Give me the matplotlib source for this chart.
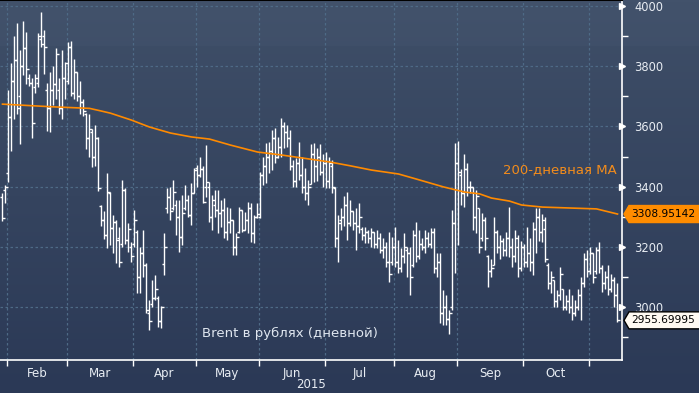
import numpy as np
import matplotlib.pyplot as plt
from matplotlib.patches import Polygon
from matplotlib.transforms import blended_transform_factory

# number of daily bars per month (Jan and Nov partial)
month_names = ["Jan", "Feb", "Mar", "Apr", "May", "Jun", "Jul", "Aug", "Sep", "Oct", "Nov"]
month_bars = [2, 20, 22, 21, 21, 22, 23, 21, 22, 22, 10]

highs = [3380, 3405,
         3720, 3810, 3900, 3945, 3855, 3950, 3915, 3775, 3760, 3775, 3910, 3980, 3920, 3745, 3780, 3800, 3860, 3760, 3855, 3815,
         3880, 3885, 3825, 3780, 3750, 3690, 3645, 3640, 3590, 3605, 3565, 3340, 3320, 3444, 3383, 3306, 3289, 3267, 3422, 3394, 3278, 3217,
         3322, 3256, 3200, 3256, 3145, 3024, 3090, 3107, 3035, 3004, 3245, 3394, 3400, 3422, 3355, 3355, 3372, 3405, 3372, 3411, 3461,
         3472, 3500, 3467, 3538, 3416, 3372, 3389, 3389, 3356, 3361, 3333, 3328, 3289, 3245, 3333, 3322, 3317, 3350, 3345, 3306, 3345,
         3450, 3500, 3544, 3549, 3588, 3594, 3566, 3627, 3616, 3605, 3588, 3489, 3494, 3549, 3500, 3461, 3422, 3540, 3544, 3527, 3540, 3510,
         3515, 3500, 3490, 3400, 3305, 3330, 3370, 3383, 3355, 3320, 3328, 3345, 3267, 3267, 3256, 3261, 3250, 3256, 3245, 3228, 3217, 3250, 3234,
         3267, 3223, 3195, 3245, 3200, 3200, 3256, 3284, 3256, 3230, 3256, 3250, 3261, 3261, 3180, 3178, 3057, 3040, 2990, 3322, 3544,
         3550, 3460, 3510, 3480, 3420, 3400, 3389, 3330, 3311, 3300, 3173, 3160, 3300, 3256, 3240, 3230, 3250, 3333, 3228, 3256, 3240, 3220,
         3210, 3267, 3230, 3284, 3328, 3328, 3310, 3300, 3145, 3120, 3090, 3057, 3134, 3060, 3040, 3060, 3040, 3024, 3060, 3101, 3178, 3190,
         3200, 3180, 3200, 3217, 3140, 3120, 3140, 3110, 3100, 3079]

lows = [3285, 3345,
        3415, 3520, 3625, 3640, 3540, 3770, 3740, 3735, 3560, 3710, 3730, 3865, 3775, 3585, 3580, 3670, 3690, 3640, 3625, 3690,
        3740, 3700, 3690, 3685, 3640, 3635, 3525, 3500, 3465, 3470, 3385, 3270, 3225, 3195, 3206, 3178, 3145, 3134, 3200, 3211, 3183, 3150,
        3201, 3045, 3045, 3100, 2979, 2924, 3000, 3024, 2932, 2930, 3106, 3311, 3289, 3322, 3239, 3184, 3206, 3322, 3300, 3272, 3378,
        3400, 3433, 3345, 3367, 3284, 3256, 3300, 3245, 3267, 3228, 3223, 3245, 3173, 3173, 3245, 3250, 3256, 3245, 3217, 3212, 3295,
        3295, 3405, 3411, 3444, 3455, 3477, 3494, 3500, 3527, 3533, 3455, 3400, 3400, 3422, 3378, 3356, 3339, 3410, 3416, 3420, 3440, 3400,
        3395, 3395, 3380, 3200, 3150, 3255, 3270, 3223, 3270, 3256, 3190, 3245, 3222, 3212, 3212, 3200, 3195, 3195, 3178, 3162, 3134, 3084, 3140,
        3134, 3112, 3117, 3145, 3100, 3040, 3134, 3150, 3160, 3190, 3180, 3200, 3195, 3112, 3100, 2946, 2940, 2940, 2912, 2990, 3112,
        3206, 3340, 3333, 3370, 3380, 3256, 3245, 3178, 3220, 3190, 3068, 3100, 3140, 3180, 3160, 3170, 3170, 3167, 3134, 3150, 3101, 3120,
        3134, 3134, 3120, 3106, 3178, 3220, 3217, 3150, 3060, 3045, 3001, 3001, 3024, 2990, 2990, 2980, 2957, 2970, 2990, 2957, 3068, 3101,
        3110, 3080, 3110, 3112, 3050, 3060, 3040, 3050, 3000, 2950]

opens = [3367, 3390,
         3445, 3630, 3750, 3820, 3700, 3800, 3860, 3760, 3745, 3730, 3745, 3890, 3900, 3720, 3660, 3720, 3740, 3720, 3660, 3760,
         3750, 3865, 3710, 3780, 3700, 3680, 3640, 3560, 3580, 3500, 3560, 3335, 3290, 3240, 3380, 3261, 3284, 3228, 3210, 3390, 3222, 3200,
         3210, 3250, 3100, 3178, 3140, 2980, 3010, 3030, 3030, 2952, 3142, 3330, 3366, 3330, 3340, 3300, 3233, 3330, 3355, 3305, 3380,
         3461, 3440, 3460, 3400, 3400, 3300, 3339, 3322, 3311, 3322, 3250, 3284, 3289, 3200, 3250, 3322, 3256, 3289, 3328, 3245, 3300,
         3300, 3440, 3470, 3500, 3520, 3560, 3500, 3530, 3600, 3580, 3560, 3470, 3420, 3480, 3440, 3400, 3380, 3410, 3510, 3470, 3500, 3450,
         3480, 3420, 3470, 3395, 3230, 3290, 3300, 3340, 3280, 3320, 3280, 3270, 3260, 3240, 3250, 3230, 3250, 3210, 3230, 3190, 3200, 3150, 3150,
         3200, 3150, 3130, 3170, 3190, 3180, 3140, 3240, 3170, 3210, 3200, 3230, 3210, 3250, 3130, 3150, 2980, 3000, 2960, 3000, 3280,
         3480, 3440, 3380, 3460, 3400, 3400, 3300, 3330, 3230, 3290, 3170, 3120, 3140, 3250, 3200, 3220, 3190, 3230, 3200, 3170, 3200, 3130,
         3200, 3150, 3178, 3150, 3260, 3300, 3250, 3260, 3140, 3080, 3090, 3020, 3040, 3060, 3000, 3020, 3000, 2980, 3000, 3040, 3080, 3160,
         3120, 3180, 3120, 3190, 3130, 3080, 3100, 3060, 3090, 3040]

closes = [3295, 3400,
          3630, 3750, 3820, 3660, 3800, 3860, 3790, 3745, 3610, 3760, 3900, 3875, 3865, 3660, 3720, 3740, 3840, 3660, 3760, 3810,
          3865, 3710, 3780, 3700, 3680, 3650, 3560, 3590, 3500, 3560, 3395, 3290, 3240, 3383, 3261, 3284, 3222, 3150, 3390, 3222, 3260, 3170,
          3289, 3100, 3178, 3140, 2990, 2952, 3030, 3060, 2952, 3000, 3200, 3366, 3320, 3383, 3300, 3233, 3311, 3355, 3305, 3378, 3455,
          3440, 3460, 3350, 3416, 3300, 3356, 3322, 3311, 3322, 3250, 3284, 3289, 3200, 3234, 3322, 3256, 3289, 3328, 3245, 3300, 3310,
          3440, 3470, 3500, 3520, 3560, 3500, 3530, 3600, 3580, 3560, 3470, 3420, 3480, 3440, 3400, 3380, 3400, 3510, 3470, 3500, 3450, 3480,
          3420, 3480, 3400, 3230, 3280, 3300, 3340, 3280, 3320, 3280, 3270, 3300, 3240, 3250, 3230, 3250, 3210, 3230, 3190, 3200, 3150, 3110, 3200,
          3150, 3130, 3170, 3200, 3180, 3100, 3240, 3170, 3210, 3200, 3230, 3210, 3250, 3130, 3150, 2980, 3000, 2960, 2980, 3280, 3480,
          3450, 3380, 3460, 3400, 3400, 3300, 3370, 3200, 3290, 3230, 3120, 3130, 3250, 3200, 3220, 3190, 3230, 3200, 3170, 3230, 3130, 3200,
          3150, 3178, 3150, 3260, 3300, 3250, 3290, 3160, 3080, 3100, 3020, 3040, 3110, 3000, 3020, 3000, 2980, 3000, 3040, 3080, 3160, 3120,
          3180, 3100, 3190, 3130, 3080, 3100, 3060, 3090, 3040, 2955.69995]

# 200-day moving average, read at some bars
ma_idx = [0, 17, 29, 33, 36, 43, 49, 56, 63, 69, 76, 85, 93, 100, 109, 116, 123, 132, 138, 147,
          154, 159, 163, 169, 173, 180, 189, 198, 205]
ma_val = [3674, 3665, 3660, 3651, 3644, 3621, 3598, 3578, 3565, 3558, 3538, 3515, 3505, 3495, 3482,
          3469, 3455, 3442, 3425, 3399, 3382, 3376, 3362, 3352, 3339, 3332, 3329, 3326, 3308.95142]

yticks = [3000, 3200, 3400, 3600, 3800, 4000]
minor_yticks = [2900, 3100, 3300, 3500, 3700, 3900]

W, H = 699, 393
fig = plt.figure(figsize=(W / 100, H / 100), dpi=100)

# background gradient
bg = fig.add_axes([0, 0, 1, 1])
top_c = np.array([63, 79, 104]) / 255
bot_c = np.array([43, 57, 86]) / 255
t = np.linspace(0, 1, 256)[:, None]
grad = top_c * (1 - t) + bot_c * t
grad[:30] = grad[:30] + 0.012
bg.imshow(grad[:, None, :], aspect="auto", extent=[0, 1, 0, 1])
bg.set_axis_off()

ax = fig.add_axes([0, 33 / H, 622 / W, 1 - 33 / H])
ax.set_facecolor("none")

x = np.arange(len(highs))
bar_c = "white"
ax.vlines(x, lows, highs, color=bar_c, lw=1.0, zorder=3)
ax.hlines(opens, x - 0.75, x, color=bar_c, lw=1.0, zorder=3)
ax.hlines(closes, x, x + 0.75, color=bar_c, lw=1.0, zorder=3)

ax.plot(ma_idx, ma_val, color="#ff8a00", lw=1.2, zorder=4)

ax.set_xlim(-0.83, 206.5)
ax.set_ylim(2824, 4020)

# month boundaries and labels
bounds = np.cumsum(month_bars) - 0.5
ax.set_xticks(bounds[:-1])
ax.set_xticklabels([])
mids = (bounds[:-1][:-1] + bounds[:-1][1:]) / 2
ax.set_xticks(mids, minor=True)
ax.set_xticklabels(month_names[1:-1], minor=True)
ax.tick_params(axis="x", which="major", direction="out", length=4, width=1, color="white")
ax.tick_params(axis="x", which="minor", length=0, pad=5, labelsize=8.5, labelcolor="#e8edf3")

ax.yaxis.tick_right()
ax.set_yticks(yticks)
ax.set_yticklabels([str(v) for v in yticks])
ax.set_yticks(minor_yticks, minor=True)
ax.tick_params(axis="y", which="major", length=0, pad=9, labelsize=8.3, labelcolor="#e8edf3")
ax.tick_params(axis="y", which="minor", direction="out", length=4, width=1, color="white")

tr = blended_transform_factory(ax.transAxes, ax.transData)
ax.plot([1.0] * len(yticks), yticks, ls="none", marker=">", ms=5, color="white",
        transform=tr, clip_on=False, zorder=5)

ax.grid(True, which="major", color="#4e6a86", lw=0.9, ls=(0, (2, 2)))

ax.spines["left"].set_visible(False)
ax.spines["top"].set_color("black")
ax.spines["top"].set_linewidth(1.5)
ax.spines["right"].set_color("white")
ax.spines["bottom"].set_color("white")
ax.spines["right"].set_linewidth(1.2)
ax.spines["bottom"].set_linewidth(1.2)

ax.text(202 / 622, (360 - 333) / 360, "Brent в рублях (дневной)", transform=ax.transAxes,
        fontsize=9.5, color="#dfe6ef", va="center", ha="left")
ax.text(503 / 622, (360 - 170) / 360, "200-дневная МА", transform=ax.transAxes,
        fontsize=9.5, color="#f28c1c", va="center", ha="left")
fig.text(311 / W, (H - 385) / H, "2015", fontsize=8.5, color="#e8edf3", ha="center", va="center")

# price tags on the right axis
fig.canvas.draw()
def tag(val, face, edge, label):
    yc = ax.transData.transform((0, val))[1]
    x0 = ax.transAxes.transform((1, 0))[0] + 2
    pts = [(x0, yc), (x0 + 5, yc + 8.5), (W + 5, yc + 8.5), (W + 5, yc - 8.5), (x0 + 5, yc - 8.5)]
    fig.patches.append(Polygon(pts, closed=True, facecolor=face, edgecolor=edge, lw=1,
                               transform=None, zorder=10))
    fig.text((x0 + 7) / W, yc / H, label, fontsize=7.7, color="black", ha="left", va="center", zorder=11)

tag(ma_val[-1], "#ff8c00", "#ff8c00", f"{ma_val[-1]:.5f}")
tag(closes[-1], "#fffaf2", "black", f"{closes[-1]:.5f}")

fig.savefig("out.png", dpi=100)
